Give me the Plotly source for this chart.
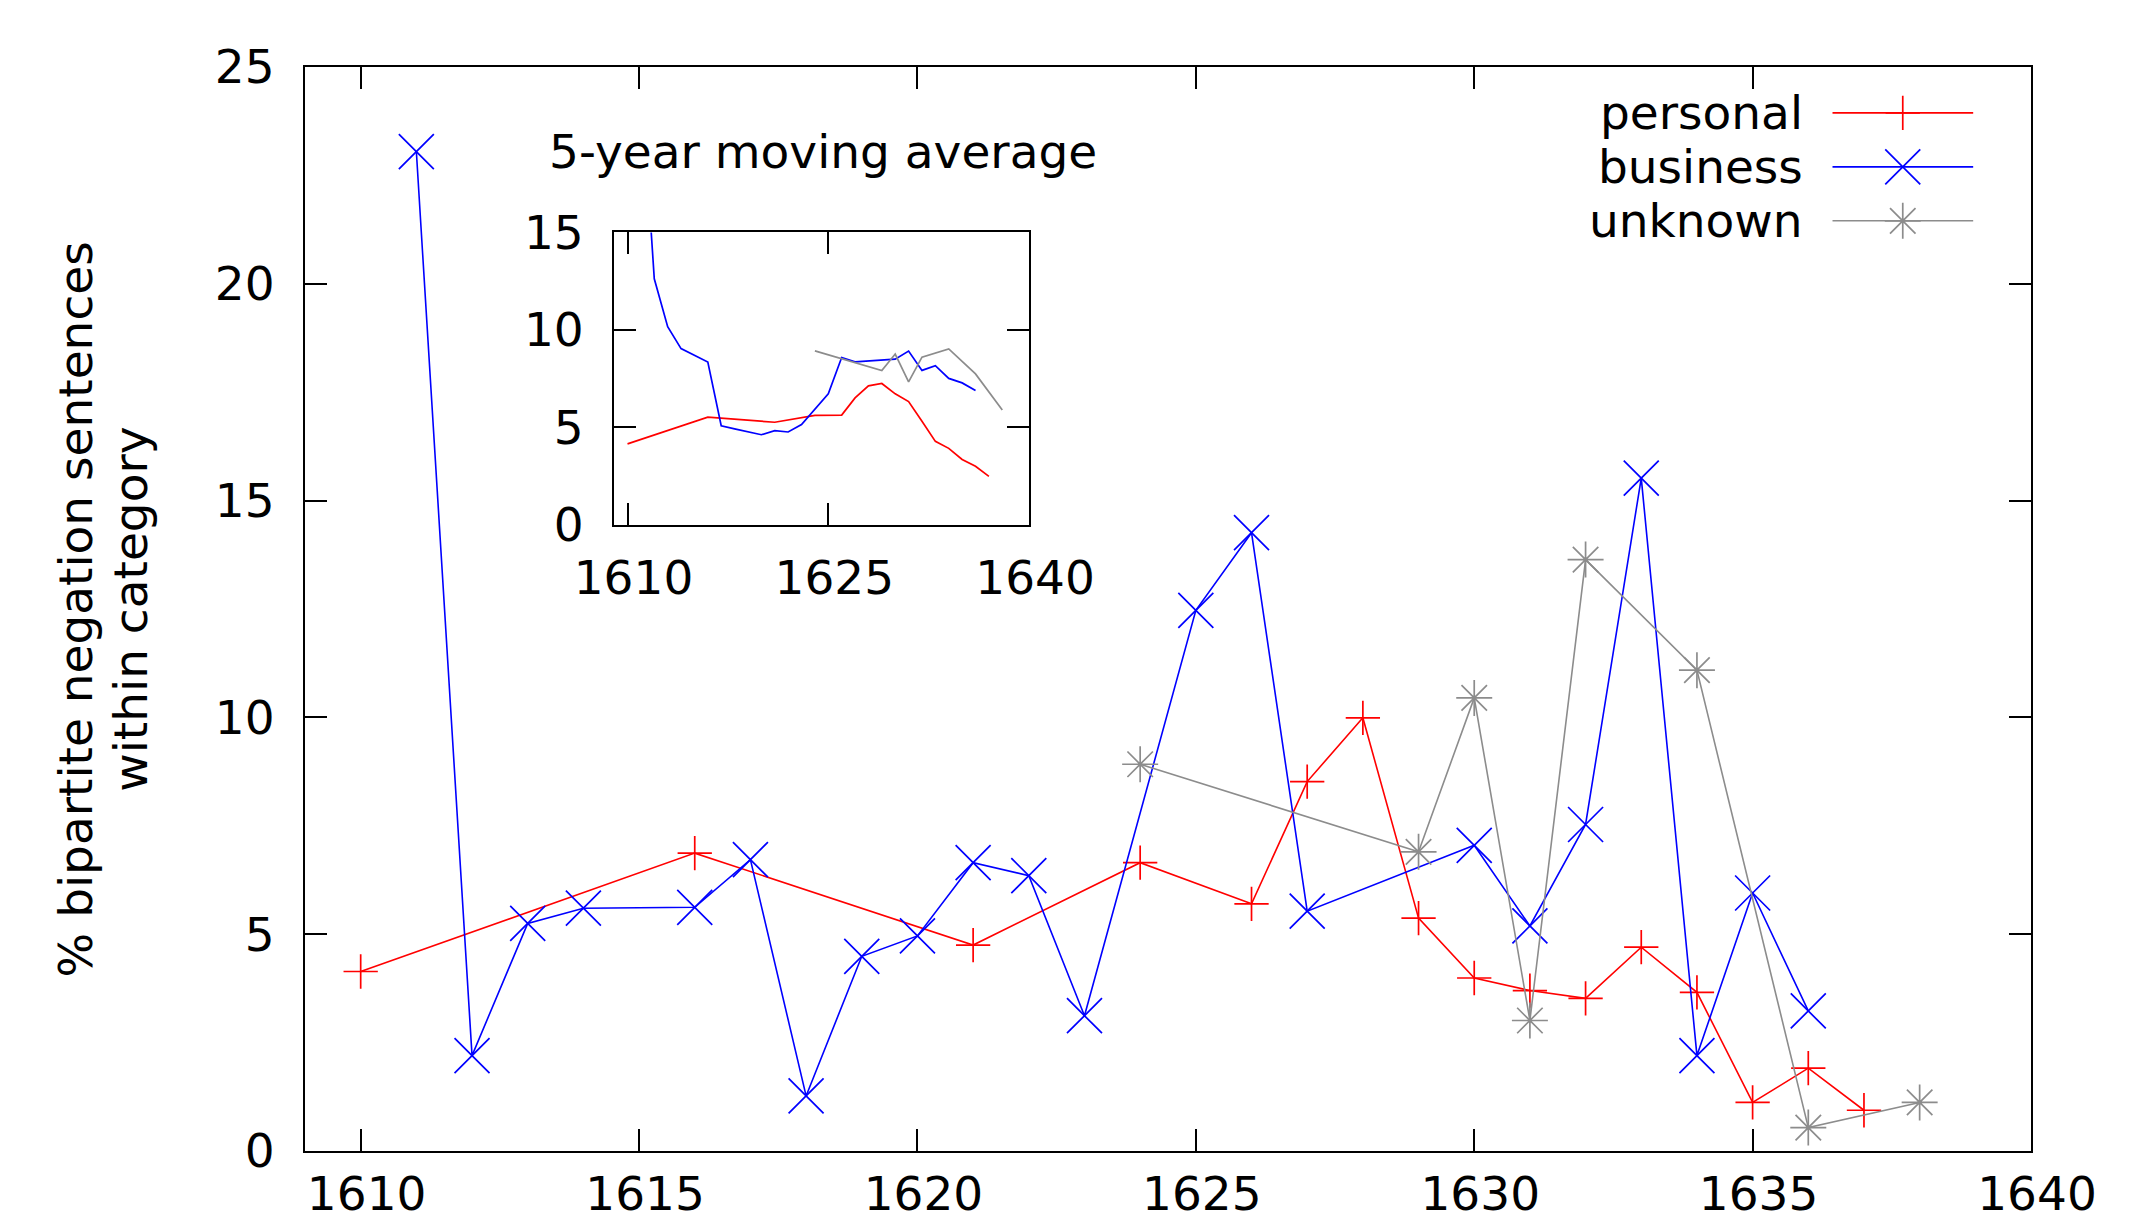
import plotly.graph_objects as go

# ---- main data ----
personal_years = [1610, 1616, 1621, 1624, 1626, 1627, 1628, 1629, 1630, 1631, 1632, 1633, 1634, 1635, 1636, 1637]
personal_vals = [4.14, 6.87, 4.75, 6.65, 5.70, 8.52, 9.99, 5.37, 3.99, 3.70, 3.52, 4.70, 3.66, 1.12, 1.91, 0.94]

business_years = [1611, 1612, 1613, 1614, 1616, 1617, 1618, 1619, 1620, 1621, 1622, 1623, 1625, 1626, 1627,
                  1630, 1631, 1632, 1633, 1634, 1635, 1636]
business_vals = [23.05, 2.20, 5.25, 5.60, 5.62, 6.72, 1.27, 4.49, 4.96, 6.65, 6.35, 3.12, 12.47, 14.26, 5.53,
                 7.05, 5.19, 7.53, 15.52, 2.20, 5.95, 3.23]

unknown_years = [1624, 1629, 1630, 1631, 1632, 1634, 1636, 1638]
unknown_vals = [8.92, 6.90, 10.45, 3.01, 13.64, 11.09, 0.54, 1.12]

# ---- inset: 5-year moving average ----
personal_ma = [4.15, 5.52, 5.26, 5.61, 5.63, 6.51, 7.13, 7.25, 6.72, 6.32, 5.31, 4.28, 3.92, 3.35, 3.00, 2.48]
business_ma = [23.05, 12.62, 10.16, 9.04, 8.35, 5.08, 4.92, 4.77, 4.62, 4.83, 4.76, 5.14, 6.72, 8.58, 8.36,
               8.50, 8.91, 7.92, 8.16, 7.51, 7.28, 6.89]
unknown_ma = [8.92, 7.91, 8.76, 7.33, 8.60, 9.02, 7.74, 5.89]

legend_names = ["personal", "business", "unknown"]

x_ticks = [1610, 1615, 1620, 1625, 1630, 1635, 1640]
y_ticks = [0, 5, 10, 15, 20, 25]
inset_x_ticks = [1610, 1625, 1640]
inset_y_ticks = [0, 5, 10, 15]

y_title_lines = ["% bipartite negation sentences", "within category"]

RED = "#ff0000"
BLUE = "#0000ff"
GRAY = "#8c8c8c"
FONT = "DejaVu Sans"
FS = 47

fig = go.Figure()

# main series
fig.add_trace(go.Scatter(x=personal_years, y=personal_vals, mode="lines+markers",
                         line=dict(color=RED, width=1.6),
                         marker=dict(symbol="cross-thin", size=24.5, line=dict(color=RED, width=1.7)),
                         showlegend=False, xaxis="x", yaxis="y"))
fig.add_trace(go.Scatter(x=business_years, y=business_vals, mode="lines+markers",
                         line=dict(color=BLUE, width=1.6),
                         marker=dict(symbol="x-thin", size=35, line=dict(color=BLUE, width=1.7)),
                         showlegend=False, xaxis="x", yaxis="y"))
fig.add_trace(go.Scatter(x=unknown_years, y=unknown_vals, mode="lines+markers",
                         line=dict(color=GRAY, width=1.6),
                         marker=dict(symbol="asterisk", size=30, line=dict(color=GRAY, width=1.7)),
                         showlegend=False, xaxis="x", yaxis="y"))

# inset series
fig.add_trace(go.Scatter(x=personal_years, y=personal_ma, mode="lines",
                         line=dict(color=RED, width=1.7), showlegend=False, xaxis="x2", yaxis="y2"))
fig.add_trace(go.Scatter(x=business_years, y=business_ma, mode="lines",
                         line=dict(color=BLUE, width=1.7), showlegend=False, xaxis="x2", yaxis="y2"))
fig.add_trace(go.Scatter(x=unknown_years, y=unknown_ma, mode="lines",
                         line=dict(color=GRAY, width=1.7), showlegend=False, xaxis="x2", yaxis="y2"))

# custom key (gnuplot style: text right-aligned, sample on the right)
key_rows = [0.9577, 0.9079, 0.8581]
key_x0, key_x1, key_xm = 0.885, 0.9665, 0.9257
key_text_x = 0.8688
key_styles = [(RED, "cross-thin", 24.5), (BLUE, "x-thin", 35), (GRAY, "asterisk", 30)]
for name, ry, (col, sym, sz) in zip(legend_names, key_rows, key_styles):
    fig.add_trace(go.Scatter(x=[key_x0, key_x1], y=[ry, ry], mode="lines",
                             line=dict(color=col, width=1.6), showlegend=False,
                             xaxis="x3", yaxis="y3", hoverinfo="skip"))
    fig.add_trace(go.Scatter(x=[key_xm], y=[ry], mode="markers",
                             marker=dict(symbol=sym, size=sz, line=dict(color=col, width=1.7)),
                             showlegend=False, xaxis="x3", yaxis="y3", hoverinfo="skip"))
    fig.add_annotation(x=key_text_x, y=ry, xref="paper", yref="paper", text=name, showarrow=False,
                       xanchor="right", yanchor="middle", font=dict(family=FONT, size=FS, color="black"))

axis_common = dict(showgrid=False, zeroline=False, showline=True, linecolor="black", linewidth=2,
                   ticks="inside", ticklen=22, tickwidth=2, tickcolor="black", mirror="ticks",
                   automargin=False, tickfont=dict(family=FONT, size=FS, color="black"))

# the page body has an 8px margin, so the plot margins are shifted by 8px
fig.update_layout(
    width=2141, height=1224,
    margin=dict(l=297, r=118, t=58.5, b=81),
    paper_bgcolor="white", plot_bgcolor="rgba(0,0,0,0)",
    font=dict(family=FONT, size=FS, color="black"),
    xaxis=dict(range=[1609, 1640], tickvals=x_ticks, domain=[0, 1], anchor="y",
               ticklabelstandoff=1, ticklabelshift=6, **axis_common),
    yaxis=dict(range=[0, 25], tickvals=y_ticks, domain=[0, 1], anchor="x",
               ticklabelstandoff=19, **axis_common),
    xaxis2=dict(range=[1609, 1640], tickvals=inset_x_ticks, domain=[0.1791, 0.4195], anchor="y2",
                ticklabelstandoff=11, ticklabelshift=6, **axis_common),
    yaxis2=dict(range=[0, 15], tickvals=inset_y_ticks, domain=[0.5777, 0.8474], anchor="x2",
                ticklabelstandoff=19, **axis_common),
    xaxis3=dict(range=[0, 1], domain=[0, 1], anchor="y3", visible=False, fixedrange=True, automargin=False),
    yaxis3=dict(range=[0, 1], domain=[0, 1], anchor="x3", visible=False, fixedrange=True, automargin=False),
    showlegend=False,
)

fig.add_annotation(x=0.3001, y=0.9225, xref="paper", yref="paper", text="5-year moving average",
                   showarrow=False, xanchor="center", yanchor="middle",
                   font=dict(family=FONT, size=FS, color="black"))
for txt, px in zip(y_title_lines, [-0.1330, -0.1016]):
    fig.add_annotation(x=px, y=0.5, xref="paper", yref="paper", text=txt,
                       showarrow=False, textangle=-90, xanchor="center", yanchor="middle",
                       font=dict(family=FONT, size=FS, color="black"))

fig.write_html("out.html")
